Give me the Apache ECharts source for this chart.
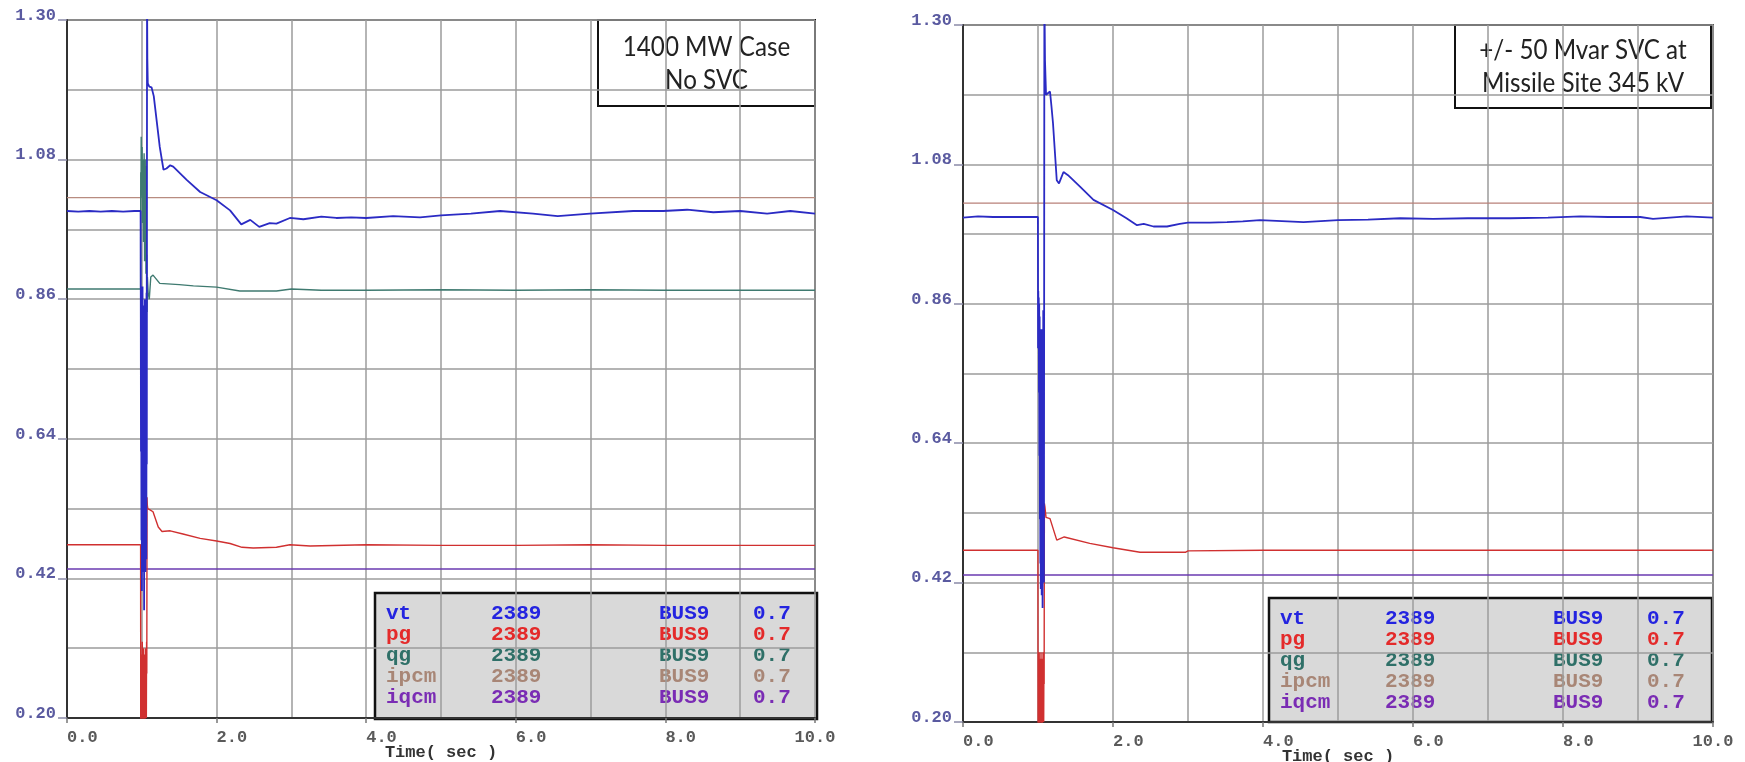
<!DOCTYPE html>
<html lang="en">
  <head>
    <meta charset="UTF-8" />
    <title>vt pg qg ipcm iqcm</title>
    <script src="https://cdn.jsdelivr.net/npm/echarts/dist/echarts.min.js"></script>
    <style>
      html, body { margin: 0; padding: 0; background: #fff; }
      #main { width: 1745px; height: 762px; }
    </style>
  </head>
  <body>
    <div id="main"></div>
    <script>
      // ---- left plot: 1400 MW case, no SVC ----
      const faultTimeL = [0.986, 0.989, 0.992, 0.995, 0.998, 1.001, 1.004, 1.007, 1.010, 1.013, 1.016, 1.019, 1.022, 1.025,
        1.028, 1.031, 1.034, 1.037, 1.040, 1.043, 1.046, 1.049, 1.052, 1.055, 1.058, 1.061, 1.064, 1.067]

      const vtTimeL = [0, 0.15, 0.3, 0.45, 0.6, 0.75, 0.9, 0.984].concat(faultTimeL, [
        1.070, 1.074, 1.080, 1.10, 1.13, 1.16, 1.24, 1.29, 1.33, 1.38,
        1.42, 1.60, 1.78, 2.00, 2.18, 2.33, 2.45, 2.57, 2.71, 2.80,
        2.98, 3.16, 3.40, 3.60, 3.80, 4.00, 4.36, 4.72, 5.00, 5.40,
        5.79, 6.23, 6.56, 6.99, 7.57, 7.97, 8.29, 8.64, 9.00, 9.36,
        9.67, 10.0])
      const vtL = [0.999, 0.998, 0.999, 0.998, 0.999, 0.998, 0.999, 0.999,
        0.89, 0.62, 0.86, 0.48, 0.84, 0.40, 0.80, 0.45, 0.88, 0.52,
        0.76, 0.43, 0.85, 0.47, 0.72, 0.37, 0.82, 0.44, 0.86, 0.50,
        0.70, 0.43, 0.83, 0.55, 0.78, 0.45, 0.87, 0.60,
        1.36, 1.24, 1.20, 1.195, 1.194, 1.180, 1.100, 1.064, 1.066, 1.071,
        1.069, 1.048, 1.029, 1.016, 1.000, 0.978, 0.985, 0.974, 0.980, 0.979,
        0.988, 0.986, 0.990, 0.988, 0.989, 0.988, 0.991, 0.989, 0.992, 0.995,
        0.999, 0.995, 0.991, 0.995, 0.999, 0.999, 1.001, 0.997, 0.999, 0.995,
        0.999, 0.995]

      const qgTimeL = [0, 0.984].concat(faultTimeL, [
        1.070, 1.075, 1.085, 1.10, 1.12, 1.15, 1.24, 1.50, 1.69, 2.00,
        2.31, 2.80, 3.00, 3.40, 4.00, 5.0, 6.0, 7.0, 8.0, 9.0, 10.0])
      const qgL = [0.876, 0.876,
        1.06, 1.02, 1.116, 1.04, 1.08, 1.03, 1.10, 1.05, 0.98, 1.07,
        1.03, 1.08, 0.95, 1.06, 1.02, 1.09, 1.04, 0.92, 1.07, 1.03,
        1.08, 1.00, 1.05, 0.90, 1.04, 1.07, 0.86, 0.93,
        0.84, 0.895, 0.87, 0.86, 0.895, 0.898, 0.885, 0.883, 0.881, 0.879,
        0.873, 0.873, 0.876, 0.874, 0.874, 0.875, 0.874, 0.875, 0.874, 0.874, 0.874]

      const pgTimeL = [0, 0.984].concat(faultTimeL, [
        1.070, 1.074, 1.08, 1.11, 1.15, 1.22, 1.27, 1.38, 1.55, 1.78,
        2.00, 2.18, 2.34, 2.49, 2.80, 2.98, 3.25, 4.0, 5.0, 6.0,
        7.0, 8.0, 9.0, 10.0])
      const pgL = [0.473, 0.473,
        0.15, 0.26, 0.21, 0.30, 0.19, 0.28, 0.23, 0.32, 0.20, 0.27,
        0.18, 0.29, 0.22, 0.31, 0.24, 0.19, 0.28, 0.22, 0.30, 0.17,
        0.26, 0.21, 0.31, 0.25, 0.29, 0.20, 0.32, 0.27,
        0.548, 0.535, 0.530, 0.528, 0.525, 0.501, 0.494, 0.495, 0.490, 0.483,
        0.479, 0.475, 0.469, 0.468, 0.469, 0.473, 0.471, 0.473, 0.472, 0.472,
        0.473, 0.472, 0.472, 0.472]

      const flatTime = [0, 10]
      const ipcmL = [1.02, 1.02]
      const iqcmL = [0.435, 0.435]

      // ---- right plot: +/- 50 Mvar SVC ----
      const faultTimeR = [1.001, 1.004, 1.007, 1.010, 1.013, 1.016, 1.019, 1.022, 1.025, 1.028, 1.031, 1.034, 1.037, 1.040,
        1.043, 1.046, 1.049, 1.052, 1.055, 1.058, 1.061, 1.064, 1.067, 1.070, 1.073, 1.076, 1.079, 1.082]

      const vtTimeR = [0, 0.2, 0.4, 0.6, 0.8, 0.999].concat(faultTimeR, [
        1.085, 1.093, 1.107, 1.16, 1.18, 1.20, 1.25, 1.28, 1.34, 1.40,
        1.56, 1.74, 2.00, 2.18, 2.32, 2.41, 2.54, 2.72, 2.89, 3.00,
        3.29, 3.52, 3.73, 3.96, 4.18, 4.54, 5.0, 5.4, 5.83, 6.27,
        6.73, 7.3, 7.8, 8.23, 8.6, 9.03, 9.2, 9.65, 10.0])
      const vtR = [0.996, 0.998, 0.997, 0.997, 0.997, 0.997,
        0.79, 0.88, 0.80, 0.87, 0.72, 0.86, 0.62, 0.84, 0.52, 0.80,
        0.45, 0.75, 0.41, 0.70, 0.46, 0.82, 0.40, 0.66, 0.44, 0.78,
        0.38, 0.58, 0.47, 0.85, 0.50, 0.72, 0.42, 0.88,
        1.36, 1.245, 1.19, 1.195, 1.171, 1.145, 1.055, 1.050, 1.068, 1.063,
        1.045, 1.024, 1.008, 0.995, 0.984, 0.986, 0.982, 0.982, 0.986, 0.988,
        0.988, 0.989, 0.990, 0.992, 0.991, 0.989, 0.992, 0.993, 0.995, 0.994,
        0.995, 0.995, 0.996, 0.998, 0.997, 0.997, 0.994, 0.998, 0.996]

      const pgTimeR = [0, 0.999].concat(faultTimeR, [
        1.085, 1.093, 1.107, 1.16, 1.25, 1.35, 1.69, 2.0, 2.36, 2.63,
        2.97, 3.0, 4.0, 5.0, 6.0, 7.0, 8.0, 9.0, 10.0])
      const pgR = [0.471, 0.471,
        0.15, 0.25, 0.21, 0.29, 0.19, 0.31, 0.22, 0.27, 0.18, 0.30,
        0.23, 0.26, 0.20, 0.31, 0.24, 0.19, 0.28, 0.22, 0.30, 0.18,
        0.27, 0.21, 0.31, 0.25, 0.29, 0.20, 0.30, 0.26,
        0.545, 0.539, 0.523, 0.521, 0.487, 0.492, 0.482, 0.475, 0.468, 0.468,
        0.468, 0.470, 0.471, 0.471, 0.471, 0.471, 0.471, 0.471, 0.471]

      const ipcmR = [1.019, 1.019]
      const iqcmR = [0.432, 0.432]

      // legend table rows
      const channels = ['vt', 'pg', 'qg', 'ipcm', 'iqcm']
      const busNums = ['2389', '2389', '2389', '2389', '2389']
      const busNames = ['BUS9', 'BUS9', 'BUS9', 'BUS9', 'BUS9']
      const busKv = ['0.7', '0.7', '0.7', '0.7', '0.7']
      const legendColors = ['#2424e0', '#e42a2a', '#2f7068', '#a88676', '#7a2cb4']

      const caseTitles = ['1400 MW Case\nNo SVC', '+/- 50 Mvar SVC at\nMissile Site 345 kV']

      const mono = 'Liberation Mono'
      const gridCol = '#9c9c9c'
      const grids = [
        { left: 67, top: 20, width: 748, height: 698 },
        { left: 963, top: 25, width: 750, height: 697 }
      ]

      let line = (name, gi, t, v, color, width) => ({
        name: name,
        type: 'line',
        xAxisIndex: gi,
        yAxisIndex: gi,
        data: t.map((x, i) => [x, v[i]]),
        showSymbol: false,
        symbol: 'none',
        clip: true,
        animation: false,
        lineStyle: { color: color, width: width },
        itemStyle: { color: color }
      })

      let legendBox = (x, y, w, h, rowTop) => {
        let kids = [{
          type: 'rect',
          shape: { x: x, y: y, width: w, height: h },
          style: { fill: '#d9d9d9', stroke: '#111', lineWidth: 2.5 }
        }]
        let cols = [[channels, 11], [busNums, 116], [busNames, 284], [busKv, 378]]
        channels.forEach((c, r) => {
          cols.forEach(([arr, dx]) => {
            kids.push({
              type: 'text',
              x: x + dx,
              y: rowTop + r * 21,
              style: {
                text: arr[r],
                fill: legendColors[r],
                font: 'bold 21px "' + mono + '"',
                verticalAlign: 'middle'
              }
            })
          })
        })
        return kids
      }

      let titleBox = (x, y, w, h, text) => [
        {
          type: 'rect',
          shape: { x: x, y: y, width: w, height: h },
          style: { fill: '#fff', stroke: '#111', lineWidth: 2 }
        },
        {
          type: 'text',
          x: x + w / 2,
          y: y + h / 2 + 1,
          scaleX: 0.93,
          style: {
            text: text,
            fill: '#222',
            font: '26px Lato',
            lineHeight: 33,
            align: 'center',
            verticalAlign: 'middle'
          }
        }
      ]

      let option = {
        backgroundColor: '#fff',
        animation: false,
        grid: grids.map(g => ({
          ...g,
          containLabel: false,
          outerBoundsMode: 'none',
          show: true,
          borderColor: '#555',
          borderWidth: 2,
          backgroundColor: '#fff'
        })),
        xAxis: grids.map((g, i) => ({
          type: 'value',
          gridIndex: i,
          min: 0,
          max: 10,
          interval: 2,
          axisLine: { show: true, onZero: false, lineStyle: { color: '#333', width: 2 } },
          axisTick: { show: true, length: 5, lineStyle: { color: '#777', width: 1.5 } },
          axisLabel: {
            color: '#5a5a5a',
            fontFamily: mono,
            fontWeight: 'bold',
            fontSize: 17,
            align: 'left',
            alignMaxLabel: 'center',
            margin: 11,
            formatter: v => v.toFixed(1)
          },
          splitLine: { show: true, lineStyle: { color: gridCol, width: 1.5 } },
          minorTick: { show: false, splitNumber: 2 },
          minorSplitLine: { show: true, lineStyle: { color: gridCol, width: 1.5 } },
          name: 'Time( sec )',
          nameLocation: 'middle',
          nameGap: 26,
          nameMoveOverlap: false,
          nameTextStyle: { color: '#333', fontFamily: mono, fontWeight: 'bold', fontSize: 17, verticalAlign: 'top' }
        })),
        yAxis: grids.map((g, i) => ({
          type: 'value',
          gridIndex: i,
          min: 0.2,
          max: 1.3,
          interval: 0.22,
          axisLine: { show: true, onZero: false, lineStyle: { color: '#333', width: 2 } },
          axisTick: { show: true, length: 9, lineStyle: { color: '#8a8aa8', width: 1.5 } },
          axisLabel: {
            color: '#5a5aa0',
            fontFamily: mono,
            fontWeight: 'bold',
            fontSize: 17,
            margin: 11,
            verticalAlign: 'bottom',
            lineHeight: 9,
            formatter: v => v.toFixed(2)
          },
          splitLine: { show: true, lineStyle: { color: gridCol, width: 1.5 } },
          minorTick: { show: false, splitNumber: 2 },
          minorSplitLine: { show: true, lineStyle: { color: gridCol, width: 1.5 } }
        })),
        series: [
          line('ipcm', 0, flatTime, ipcmL, '#b88c80', 1.3),
          line('iqcm', 0, flatTime, iqcmL, '#6a3ab0', 1.5),
          line('qg', 0, qgTimeL, qgL, '#3f7a70', 1.4),
          line('pg', 0, pgTimeL, pgL, '#d03030', 1.4),
          line('vt', 0, vtTimeL, vtL, '#2b2bc4', 1.8),
          line('ipcm', 1, flatTime, ipcmR, '#b88078', 1.3),
          line('iqcm', 1, flatTime, iqcmR, '#6a3ab0', 1.5),
          line('pg', 1, pgTimeR, pgR, '#d03030', 1.4),
          line('vt', 1, vtTimeR, vtR, '#2b2bc4', 1.8)
        ],
        graphic: [
          {
            type: 'group',
            z: 100,
            children: []
              .concat(titleBox(598, 20, 217, 86, caseTitles[0]))
              .concat(titleBox(1455, 25, 256, 83, caseTitles[1]))
              .concat(legendBox(375, 593, 442, 126, 614))
              .concat(legendBox(1269, 598, 443, 124, 619))
          }
        ]
      }

      echarts.init(document.getElementById('main')).setOption(option)
    </script>
  </body>
</html>
